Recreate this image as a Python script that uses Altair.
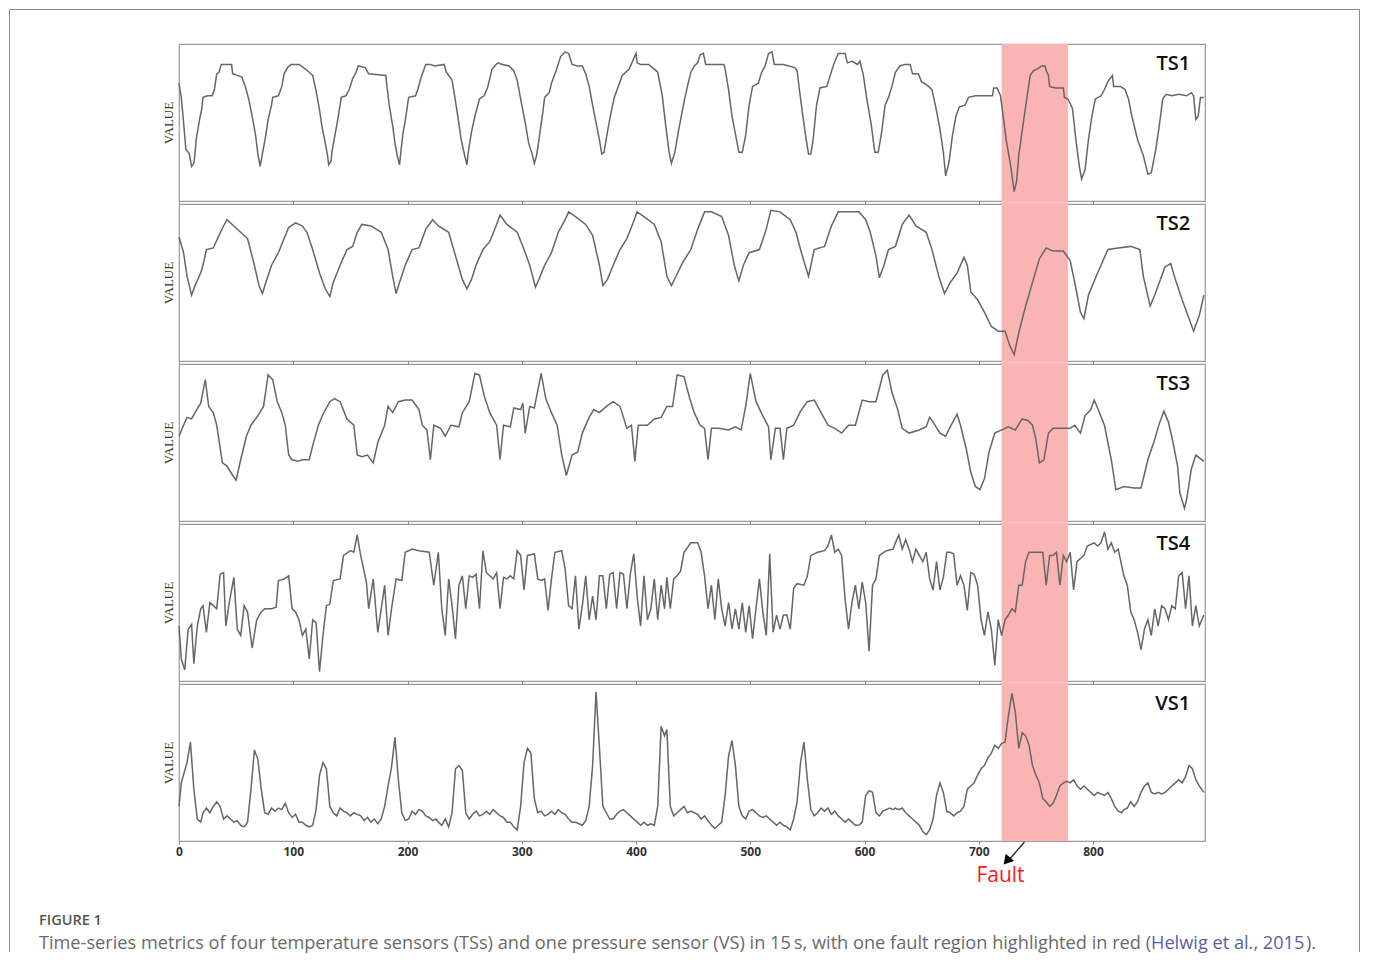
import altair as alt
import pandas as pd

# ---------------- data ----------------
X_MAX = 898
FAULT_START, FAULT_END = 720, 778
TICKS = [0, 100, 200, 300, 400, 500, 600, 700, 800]
NAMES = ["TS1", "TS2", "TS3", "TS4", "VS1"]

ts1 = [(0,75),(2,66),(4,50),(6,33),(9,30),(11,22),(13,24),(14,30),(15,39),(18,52),(20,59),(21,66),(25,67),(29,67),(31,71),(33,81),(35,82),(37,87),(44,87),(46,87),(47,81),(51,80),(55,79),(58,73),(61,65),(64,54),(67,42),(69,30),(71,22),(73,30),(76,42),(78,52),(81,61),(82,66),(87,67),(90,73),(92,81),(95,85),(98,87),(105,87),(109,85),(114,82),(117,80),(120,70),(123,58),(125,48),(128,37),(130,29),(131,23),(133,25),(134,32),(137,44),(139,52),(142,66),(146,67),(149,71),(152,78),(155,82),(157,86),(163,85),(166,81),(181,80),(182,73),(184,61),(187,48),(189,37),(191,29),(193,23),(194,30),(196,43),(198,51),(201,66),(207,67),(209,71),(212,79),(216,87),(220,87),(224,86),(232,87),(234,82),(239,77),(241,68),(244,54),(247,39),(250,29),(252,23),(253,30),(256,44),(259,54),(263,65),(267,67),(270,72),(274,84),(279,88),(283,87),(289,86),(293,83),(296,77),(299,65),(303,50),(306,37),(309,30),(311,24),(313,29),(315,39),(318,54),(320,66),(324,69),(326,75),(330,83),(334,92),(338,95),(341,94),(344,87),(349,86),(353,86),(356,81),(359,73),(362,61),(365,50),(368,39),(370,30),(372,31),(375,44),(378,56),(381,66),(384,72),(388,80),(394,84),(400,94),(401,88),(404,87),(411,87),(416,84),(419,82),(423,67),(426,48),(429,31),(431,24),(434,31),(437,44),(442,63),(445,73),(448,82),(451,86),(454,88),(456,93),(459,94),(461,87),(469,87),(477,87),(478,84),(481,71),(484,54),(488,39),(490,31),(493,31),(496,42),(499,61),(502,73),(507,75),(510,82),(513,86),(516,94),(519,95),(521,87),(529,87),(539,85),(541,83),(543,71),(546,54),(549,39),(551,30),(553,30),(555,39),(558,61),(561,72),(567,73),(570,80),(573,87),(577,94),(583,94),(585,88),(589,89),(594,87),(596,89),(599,80),(602,65),(606,48),(609,31),(612,31),(615,44),(618,61),(621,66),(624,73),(627,82),(631,86),(635,87),(640,87),(642,81),(647,81),(650,76),(656,73),(659,71),(662,61),(666,46),(669,31),(671,16),(674,25),(677,42),(680,54),(683,60),(688,61),(691,66),(697,67),(707,67),(712,67),(713,72),(716,72),(719,67),(721,56),(724,39),(728,22),(731,6),(733,12),(735,29),(739,50),(742,65),(745,80),(748,83),(751,84),(755,86),(758,86),(759,83),(761,80),(762,73),(767,72),(774,72),(775,66),(778,65),(782,59),(785,39),(788,22),(790,14),(793,20),(796,39),(799,54),(802,65),(807,67),(810,71),(813,76),(817,80),(818,73),(824,73),(828,71),(831,65),(834,54),(839,39),(844,29),(848,17),(851,18),(855,33),(858,48),(861,65),(864,68),(869,67),(875,68),(882,67),(886,69),(888,67),(890,52),(892,54),(894,66),(897,66)]

ts2 = [(0,79),(4,69),(7,54),(11,42),(14,48),(19,56),(21,61),(24,71),(30,72),(35,80),(39,86),(42,90),(48,86),(54,82),(60,78),(66,61),(70,48),(73,43),(76,50),(81,61),(87,69),(92,78),(96,85),(102,88),(108,86),(112,82),(117,71),(123,56),(128,46),(132,41),(135,50),(141,61),(147,71),(152,73),(156,82),(160,87),(168,86),(177,82),(183,71),(187,54),(190,43),(193,50),(198,61),(204,71),(210,72),(216,84),(222,90),(227,86),(236,82),(242,67),(248,52),(252,46),(256,52),(260,61),(266,71),(272,76),(278,87),(281,93),(287,87),(296,82),(302,71),(307,61),(312,47),(315,52),(320,61),(326,69),(332,82),(338,90),(341,95),(347,92),(356,87),(362,80),(368,61),(371,48),(375,52),(380,61),(386,71),(392,78),(398,89),(401,95),(407,92),(416,87),(422,76),(427,54),(431,48),(435,54),(441,63),(448,71),(454,84),(460,95),(466,95),(475,92),(481,80),(486,61),(490,51),(494,61),(499,69),(508,71),(514,84),(518,96),(526,95),(535,90),(540,82),(544,71),(548,61),(551,54),(556,71),(565,73),(571,86),(577,95),(595,95),(601,90),(605,82),(610,67),(613,53),(617,61),(621,71),(627,73),(633,87),(639,93),(645,86),(654,82),(659,71),(665,54),(670,43),(675,50),(681,56),(687,66),(690,61),(693,44),(699,39),(705,31),(711,22),(717,19),(723,19),(727,10),(731,4),(735,18),(741,35),(747,50),(753,65),(759,72),(765,70),(774,70),(780,64),(784,50),(789,31),(792,27),(796,42),(804,56),(813,71),(822,72),(833,73),(841,71),(844,54),(850,35),(854,42),(858,50),(863,60),(868,62),(872,52),(878,39),(884,27),(888,19),(893,29),(897,42)]

ts3 = [(0,54),(4,61),(7,66),(11,65),(14,69),(19,75),(23,90),(26,73),(30,69),(33,61),(38,37),(42,35),(47,29),(50,26),(54,39),(59,54),(63,61),(69,67),(74,73),(78,93),(82,90),(86,76),(90,69),(93,61),(96,42),(99,39),(104,38),(108,39),(114,39),(117,48),(122,61),(126,68),(132,76),(136,78),(141,76),(147,65),(153,61),(156,42),(160,41),(165,42),(170,37),(174,50),(180,61),(183,73),(187,69),(192,76),(198,77),(204,77),(210,71),(213,61),(217,58),(220,39),(223,61),(229,59),(233,54),(238,61),(245,60),(248,69),(254,76),(259,94),(263,93),(267,80),(272,69),(278,61),(281,39),(284,61),(290,60),(293,72),(299,71),(301,75),(303,56),(307,73),(311,72),(317,94),(321,78),(326,69),(331,61),(335,42),(339,29),(344,42),(349,44),(353,56),(359,66),(363,71),(368,69),(374,73),(380,76),(386,73),(392,59),(396,61),(399,38),(402,61),(410,61),(416,65),(422,66),(427,73),(432,73),(436,93),(442,92),(447,78),(451,69),(456,61),(460,59),(463,39),(466,59),(472,59),(481,58),(487,60),(492,58),(496,73),(500,94),(505,76),(511,67),(516,60),(518,39),(522,59),(526,59),(529,39),(532,59),(538,61),(544,70),(550,76),(556,77),(562,69),(568,61),(574,59),(580,56),(586,61),(592,61),(598,77),(604,76),(610,76),(616,93),(620,96),(624,82),(629,71),(633,59),(639,56),(648,58),(654,60),(657,66),(660,63),(666,56),(671,54),(675,60),(681,68),(684,61),(689,46),(693,31),(697,22),(701,20),(705,27),(709,44),(714,56),(720,58),(726,60),(732,58),(738,65),(743,64),(747,61),(750,52),(753,37),(757,39),(761,56),(765,59),(774,59),(780,59),(784,61),(789,56),(793,67),(798,71),(801,77),(804,72),(810,61),(816,39),(820,20),(827,22),(836,21),(842,21),(848,39),(854,52),(858,62),(862,70),(866,63),(870,50),(874,35),(876,18),(880,8),(882,14),(886,33),(890,42),(897,38)]

ts4 = [(0,35),(2,14),(5,7),(8,33),(11,36),(13,11),(16,35),(19,46),(21,48),(24,31),(27,50),(30,48),(33,46),(36,68),(39,69),(41,35),(44,50),(48,66),(51,33),(54,29),(57,48),(60,44),(64,21),(68,39),(72,44),(75,46),(81,46),(85,47),(87,64),(92,65),(96,67),(99,46),(102,44),(105,39),(108,29),(111,33),(114,14),(117,39),(120,37),(123,6),(126,29),(129,48),(132,49),(135,64),(141,65),(144,80),(150,83),(153,82),(156,93),(159,80),(164,63),(166,46),(170,65),(174,31),(177,46),(180,61),(183,29),(186,46),(190,65),(195,64),(198,82),(204,84),(210,83),(219,82),(223,61),(227,82),(230,46),(233,29),(236,65),(239,48),(242,27),(245,61),(248,67),(251,46),(254,67),(257,66),(260,68),(263,46),(266,83),(269,69),(272,67),(275,65),(278,69),(281,46),(284,66),(287,65),(290,67),(293,65),(296,83),(299,80),(302,58),(305,80),(311,81),(314,65),(317,64),(320,65),(323,45),(326,65),(329,82),(335,83),(338,71),(341,48),(344,46),(347,67),(350,33),(353,48),(356,67),(359,39),(362,54),(365,39),(368,67),(371,67),(374,46),(377,68),(380,69),(383,46),(386,69),(389,68),(392,46),(395,68),(398,81),(401,54),(404,35),(407,67),(410,39),(413,46),(416,65),(419,39),(422,61),(425,46),(427,66),(430,46),(433,65),(436,67),(439,70),(442,82),(448,88),(454,88),(457,82),(460,67),(463,46),(466,61),(469,39),(472,65),(475,46),(478,35),(481,50),(484,33),(487,46),(490,33),(493,50),(496,31),(499,48),(502,27),(505,46),(508,65),(511,44),(514,29),(517,81),(520,31),(523,42),(526,33),(529,42),(532,42),(535,33),(538,59),(541,62),(547,61),(550,67),(553,80),(559,82),(565,83),(568,86),(571,93),(574,82),(577,84),(580,80),(583,52),(586,33),(589,50),(592,61),(595,46),(598,63),(601,50),(604,19),(607,61),(610,65),(613,80),(619,83),(625,84),(627,88),(630,93),(633,84),(636,90),(639,84),(642,76),(645,84),(648,80),(651,76),(654,82),(657,65),(660,58),(663,76),(666,58),(669,66),(672,82),(675,82),(678,81),(681,61),(684,67),(687,61),(690,45),(693,69),(696,68),(699,61),(702,39),(705,29),(708,44),(711,33),(714,10),(717,39),(720,29),(723,39),(726,42),(729,46),(732,44),(735,61),(738,61),(741,76),(744,82),(750,82),(756,82),(759,61),(762,80),(765,80),(768,82),(771,61),(774,80),(777,76),(780,82),(783,58),(786,76),(789,78),(792,80),(795,86),(801,88),(804,86),(807,88),(810,95),(813,84),(816,88),(819,82),(822,84),(827,67),(830,61),(833,44),(836,39),(839,31),(842,20),(845,33),(848,39),(851,29),(854,46),(857,35),(860,48),(863,46),(866,39),(869,48),(872,46),(875,67),(878,69),(881,46),(884,67),(887,35),(890,48),(893,35),(897,42)]

vs1 = [(0,22),(2,37),(7,50),(10,63),(13,33),(16,14),(19,12),(21,18),(24,21),(27,18),(30,22),(33,25),(36,22),(39,14),(42,16),(45,14),(48,12),(51,13),(54,10),(57,9),(60,12),(63,33),(66,58),(69,52),(72,33),(75,18),(78,17),(81,21),(84,19),(87,21),(90,20),(93,24),(96,18),(99,15),(102,17),(105,12),(108,12),(111,10),(114,9),(117,10),(120,20),(123,42),(126,50),(129,46),(132,22),(135,18),(138,16),(141,21),(144,19),(147,18),(150,16),(153,18),(156,17),(159,16),(162,13),(165,15),(168,12),(171,14),(174,11),(177,14),(180,22),(183,35),(186,47),(189,66),(192,39),(195,18),(198,13),(201,14),(204,19),(207,17),(210,20),(213,19),(216,16),(219,15),(222,13),(225,14),(227,12),(230,10),(233,14),(236,9),(239,18),(242,46),(245,48),(248,45),(251,18),(254,14),(257,17),(260,19),(263,16),(266,17),(269,19),(272,17),(275,20),(278,18),(281,16),(284,15),(287,12),(290,12),(293,9),(296,7),(299,22),(302,50),(305,59),(308,56),(311,27),(314,18),(317,19),(320,16),(323,17),(326,19),(329,17),(332,20),(335,18),(338,17),(341,14),(344,12),(347,12),(350,11),(353,10),(356,13),(359,22),(362,48),(365,95),(368,59),(371,22),(374,18),(377,14),(380,14),(383,17),(386,19),(389,20),(392,18),(395,16),(398,14),(401,12),(404,10),(407,12),(410,10),(413,11),(416,10),(419,22),(422,73),(425,67),(427,71),(430,22),(433,16),(436,18),(439,20),(442,22),(445,18),(448,19),(451,18),(454,17),(457,14),(460,16),(463,13),(466,10),(469,8),(472,10),(475,12),(478,29),(481,54),(484,64),(487,48),(490,22),(493,16),(496,14),(499,19),(502,20),(505,18),(508,16),(511,15),(514,16),(517,14),(520,12),(523,10),(526,12),(529,10),(532,9),(535,7),(538,14),(541,25),(544,50),(547,63),(550,39),(553,20),(556,16),(559,18),(562,21),(565,19),(568,21),(571,17),(574,19),(577,16),(580,14),(583,12),(586,14),(589,12),(592,10),(595,10),(598,12),(601,29),(604,32),(607,31),(610,18),(613,16),(616,19),(619,20),(622,21),(625,20),(627,21),(630,20),(633,21),(636,18),(639,16),(642,14),(645,12),(648,10),(651,6),(654,4),(657,7),(660,14),(663,29),(666,37),(669,31),(672,19),(675,18),(678,16),(681,18),(684,19),(687,22),(690,33),(693,35),(696,37),(699,42),(702,46),(705,48),(708,53),(711,56),(714,61),(717,59),(720,62),(723,63),(726,80),(729,94),(732,82),(735,59),(738,69),(741,67),(744,61),(747,48),(750,42),(753,37),(756,27),(759,25),(762,22),(765,24),(768,29),(771,35),(774,37),(777,38),(780,37),(783,39),(786,35),(789,33),(792,35),(795,33),(798,31),(801,29),(804,31),(807,30),(810,29),(813,31),(816,27),(819,22),(822,19),(825,18),(827,20),(830,21),(833,25),(836,22),(839,25),(842,31),(845,35),(848,37),(851,31),(854,30),(857,31),(860,30),(863,31),(866,33),(869,35),(872,37),(875,39),(878,37),(881,41),(884,48),(887,46),(890,39),(893,35),(897,31)]

SERIES = [ts1, ts2, ts3, ts4, vs1]

FAULT_LABEL = "Fault"
ARROW = {"x_from": 740, "x_to": 727, "head": 724.5}
CAPTION_HEAD = "FIGURE 1"
CAPTION_1 = ("Time-series metrics of four temperature sensors (TSs) and one pressure sensor (VS) "
             "in 15\u2009s, with one fault region highlighted in red (")
CAPTION_LINK = "Helwig et al., 2015"
CAPTION_2 = ")."

# ---------------- layout / style ----------------
W, H, GAP = 1026, 157, 3
LINE_COLOR = "#666666"
BAND_COLOR = "#fbb4b4"
SANS = "Open Sans"

xscale = alt.Scale(domain=[0, X_MAX], nice=False, zero=False)
yscale = alt.Scale(domain=[0, 100], nice=False, zero=False)


def x_axis(last):
    return alt.Axis(values=TICKS, labels=last, ticks=True, tickSize=3, tickColor="#8a8a8a",
                    domain=False, grid=False, title=None, labelFont=SANS, labelFontSize=12,
                    labelFontWeight="bold", labelColor="#333", labelPadding=2, labelAngle=0,
                    labelFlush=False)


def panel(idx):
    name, pts = NAMES[idx], SERIES[idx]
    first, last = idx == 0, idx == len(NAMES) - 1
    df = pd.DataFrame(pts, columns=["t", "v"])
    xa = x_axis(last)

    band = alt.Chart(pd.DataFrame({"t": [FAULT_START], "t2": [FAULT_END]})).mark_rect(
        color=BAND_COLOR, opacity=1).encode(
        x=alt.X("t:Q", scale=xscale, axis=xa), x2="t2:Q",
        y=alt.value(0 if first else -GAP / 2), y2=alt.value(H if last else H + GAP / 2))

    line = alt.Chart(df).mark_line(color=LINE_COLOR, strokeWidth=1.5).encode(
        x=alt.X("t:Q", scale=xscale, axis=xa),
        y=alt.Y("v:Q", scale=yscale,
                axis=alt.Axis(title="VALUE", labels=False, ticks=False, domain=False, grid=False,
                              titleFont="Liberation Serif", titleFontSize=13,
                              titleFontWeight="normal", titleColor="#333", titlePadding=4)))

    label = alt.Chart(pd.DataFrame({"t": [885], "v": [87], "s": [name]})).mark_text(
        align="right", baseline="middle", font=SANS, fontSize=20, fontWeight=600,
        color="#111").encode(x=alt.X("t:Q", scale=xscale), y=alt.Y("v:Q", scale=yscale), text="s:N")

    layers = [band, line, label]

    if first:
        one = pd.DataFrame({"k": [0]})
        frame_style = dict(color="#8a8a8a", strokeWidth=1)
        L, T, R, B = -169.5, -34.5, 1180.5, 908
        layers += [
            alt.Chart(one).mark_rule(**frame_style).encode(
                x=alt.value(L), y=alt.value(T), y2=alt.value(B)),
            alt.Chart(one).mark_rule(**frame_style).encode(
                x=alt.value(L), x2=alt.value(R), y=alt.value(T)),
            alt.Chart(one).mark_rule(**frame_style).encode(
                x=alt.value(R), y=alt.value(T), y2=alt.value(B)),
        ]

    if last:
        one = pd.DataFrame({"a": [ARROW["x_from"]], "b": [ARROW["x_to"]], "h": [ARROW["head"]],
                            "f": [(FAULT_START + FAULT_END) / 2 - 30], "s": [FAULT_LABEL]})
        layers += [
            alt.Chart(one).mark_rule(color="#222", strokeWidth=1.3).encode(
                x=alt.X("a:Q", scale=xscale), x2="b:Q", y=alt.value(158), y2=alt.value(175)),
            alt.Chart(one).mark_point(shape="triangle-up", filled=True, size=120, angle=221,
                                      color="#000", opacity=1).encode(
                x=alt.X("h:Q", scale=xscale), y=alt.value(177)),
            alt.Chart(one).mark_text(font=SANS, fontSize=21, color="#ff1a1a", align="center",
                                     baseline="middle").encode(
                x=alt.X("f:Q", scale=xscale), y=alt.value(192), text="s:N"),
            alt.Chart(pd.DataFrame({"s": [CAPTION_HEAD]})).mark_text(
                font=SANS, fontSize=14.5, fontWeight=600, color="#555", align="left",
                baseline="middle").encode(x=alt.value(-140), y=alt.value(237), text="s:N"),
            alt.Chart(pd.DataFrame({"s": [CAPTION_1]})).mark_text(
                font=SANS, fontSize=18.2, color="#6a6a6a", align="right",
                baseline="middle").encode(x=alt.value(972), y=alt.value(260), text="s:N"),
            alt.Chart(pd.DataFrame({"s": [CAPTION_LINK]})).mark_text(
                font=SANS, fontSize=18.2, color="#5b5ea6", align="left",
                baseline="middle").encode(x=alt.value(972), y=alt.value(260), text="s:N"),
            alt.Chart(pd.DataFrame({"s": [CAPTION_2]})).mark_text(
                font=SANS, fontSize=18.2, color="#6a6a6a", align="left",
                baseline="middle").encode(x=alt.value(1127), y=alt.value(260), text="s:N"),
        ]

    return alt.layer(*layers).properties(width=W, height=H)


chart = alt.vconcat(*[panel(i) for i in range(len(NAMES))], spacing=GAP, bounds="flush").properties(
    padding=0, background="white"
).configure_view(stroke="#9a9a9a", strokeWidth=1.2)

chart.save("out.html", embed_options={"renderer": "svg", "actions": False})
